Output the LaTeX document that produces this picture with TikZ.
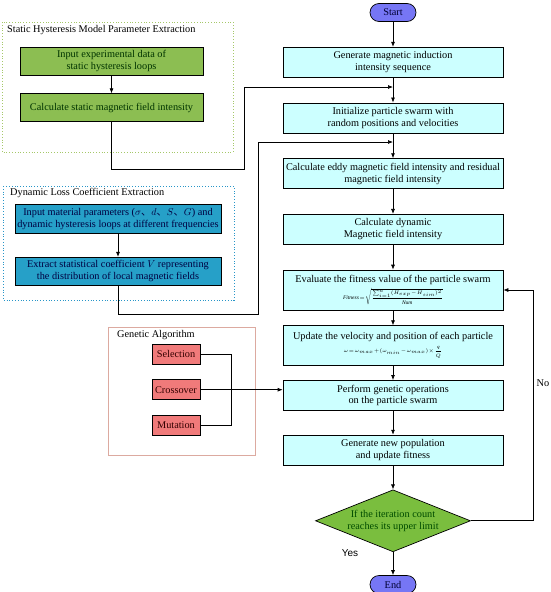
\documentclass[tikz,border=0pt]{standalone}
\usepackage{amsmath}
\usepackage{fontspec}
\setmainfont{Liberation Serif}
\newfontfamily\cjkfont{Noto Sans CJK SC}
\newfontfamily\labelsans{Liberation Sans}
\usetikzlibrary{arrows.meta,positioning,shapes.geometric}
\definecolor{procfill}{RGB}{204,255,255}
\definecolor{termfill}{RGB}{118,118,245}
\definecolor{decfill}{RGB}{122,190,62}
\definecolor{shfill}{RGB}{140,190,82}
\definecolor{dlfill}{RGB}{38,160,200}
\definecolor{gafill}{RGB}{240,122,122}
\definecolor{shframe}{RGB}{165,200,105}
\definecolor{dlframe}{RGB}{40,150,200}
\definecolor{gaframe}{RGB}{220,170,160}
\newcommand{\boxfont}{\fontsize{10.3}{11.8}\selectfont}
\newcommand{\eqfont}{\fontsize{5.5}{6.5}\selectfont\medmuskip=1mu\thickmuskip=1.5mu}
\newcommand{\dcomma}{{\cjkfont 、}}

\begin{document}
\begin{tikzpicture}[x=1pt, y=-1pt,
  proc/.style={draw, line width=0.7pt, fill=procfill, minimum width=220pt, minimum height=30pt, align=center, inner sep=1pt, font=\boxfont},
  term/.style={draw, line width=0.7pt, fill=termfill, rounded corners=9pt, minimum width=46pt, minimum height=18pt, inner sep=1pt, font=\boxfont, text=black!80!blue},
  decide/.style={draw, line width=0.7pt, fill=decfill, diamond, aspect=2.5, minimum width=155pt, minimum height=62pt, inner sep=0pt, align=center, font=\boxfont, text=black!70!green},
  shbox/.style={draw, line width=0.7pt, fill=shfill, minimum width=183pt, minimum height=28pt, align=center, inner sep=1pt, font=\boxfont, text=black!80!green},
  dlbox/.style={draw, line width=0.7pt, fill=dlfill, minimum width=206pt, minimum height=29pt, align=center, inner sep=1pt, font=\boxfont, text=black!75!blue},
  gabox/.style={draw, line width=0.7pt, fill=gafill, minimum width=48pt, minimum height=20pt, inner sep=1pt, font=\boxfont, text=black!80!red},
  grouptitle/.style={anchor=west, inner sep=0pt, font=\boxfont},
  arrow/.style={-{Latex[length=5pt,width=4pt]}, line width=0.7pt},
  link/.style={line width=0.7pt},
]
  \useasboundingbox (0,0) rectangle (550,592);

  % main column
  \node[term] (start) at (393,12.5) {Start};
  \node[proc, below=25pt of start] (gen) {Generate magnetic induction\\intensity sequence};
  \node[proc, below=25pt of gen] (init) {Initialize particle swarm with\\random positions and velocities};
  \node[proc, below=25pt of init] (eddy) {Calculate eddy magnetic field intensity and residual\\magnetic field intensity};
  \node[proc, below=25pt of eddy] (dyn) {Calculate dynamic\\Magnetic field intensity};
  \node[proc, minimum height=40pt, below=25pt of dyn] (fit) {Evaluate the fitness value of the particle swarm\\[3pt]
    {\eqfont $\displaystyle \mathit{Fitness}=\sqrt{\frac{\sum_{i=1}^{n}(H_{exp}-H_{sim})^2}{\mathit{Num}}}$}};
  \node[proc, minimum height=40pt, below=15pt of fit] (upd) {Update the velocity and position of each particle\\[1pt]
    {\eqfont $\omega=\omega_{max}+(\omega_{min}-\omega_{max})\times\dfrac{q}{Q}$}};
  \node[proc, below=14pt of upd] (gop) {Perform genetic operations\\on the particle swarm};
  \node[proc, below=24pt of gop] (newp) {Generate new population\\and update fitness};
  \node[decide, below=24pt of newp] (iter) {If the iteration count\\reaches its upper limit};
  \node[term, below=23pt of iter] (end) {End};

  \draw[arrow] (start) -- (gen);
  \draw[arrow] (gen) -- (init);
  \draw[arrow] (init) -- (eddy);
  \draw[arrow] (eddy) -- (dyn);
  \draw[arrow] (dyn) -- (fit);
  \draw[arrow] (fit) -- (upd);
  \draw[arrow] (upd) -- (gop);
  \draw[arrow] (gop) -- (newp);
  \draw[arrow] (newp) -- (iter);
  \draw[arrow] (iter) -- (end);
  \draw[arrow] (iter.east) -- ++(62,0) |- (fit.east);
  \node[font=\boxfont] (no) at (543,383) {No};
  \node[font=\labelsans\fontsize{10}{11}\selectfont] (yes) at (350,553) {Yes};

  % static hysteresis group
  \draw[shframe, line width=0.8pt, dotted] (2,22) rectangle (233,152);
  \node[grouptitle] (shtitle) at (7,30) {Static Hysteresis Model Parameter Extraction};
  \node[shbox] (sh1) at (111.5,61) {Input experimental data of\\static hysteresis loops};
  \node[shbox, below=18pt of sh1] (sh2) {Calculate static magnetic field intensity};
  \draw[arrow] (sh1) -- (sh2);

  % dynamic loss group
  \draw[dlframe, line width=0.8pt, dotted] (3,186) rectangle (234,300);
  \node[grouptitle] (dltitle) at (10,193) {Dynamic Loss Coefficient Extraction};
  \node[dlbox] (dl1) at (118,219) {Input material parameters ($\sigma$\dcomma$d$\dcomma$S$\dcomma$G$) and\\dynamic hysteresis loops at different frequencies};
  \node[dlbox, minimum height=28pt, below=23pt of dl1] (dl2) {Extract statistical coefficient $V$ representing\\the distribution of local magnetic fields};
  \draw[arrow] (dl1) -- (dl2);

  % genetic algorithm group
  \draw[gaframe, line width=0.8pt] (108,327) rectangle (255,455);
  \node[grouptitle] (gatitle) at (117,335) {Genetic Algorithm};
  \node[gabox] (sel) at (176,354) {Selection};
  \node[gabox, below=15pt of sel] (cro) {Crossover};
  \node[gabox, below=15pt of cro] (mut) {Mutation};
  \draw[link] (sel.east) -- ++(31,0) |- (mut.east);
  \draw[arrow] (cro.east) -- (cro.east -| gop.west);

  % feeds into main column
  \coordinate (m1) at (393,87);
  \coordinate (m2) at (393,142);
  \coordinate (bendA) at (244,169);
  \coordinate (bendB) at (258,314);
  \draw[arrow] (sh2.south) |- (bendA) |- (m1);
  \draw[arrow] (dl2.south) |- (bendB) |- (m2);
\end{tikzpicture}
\end{document}
